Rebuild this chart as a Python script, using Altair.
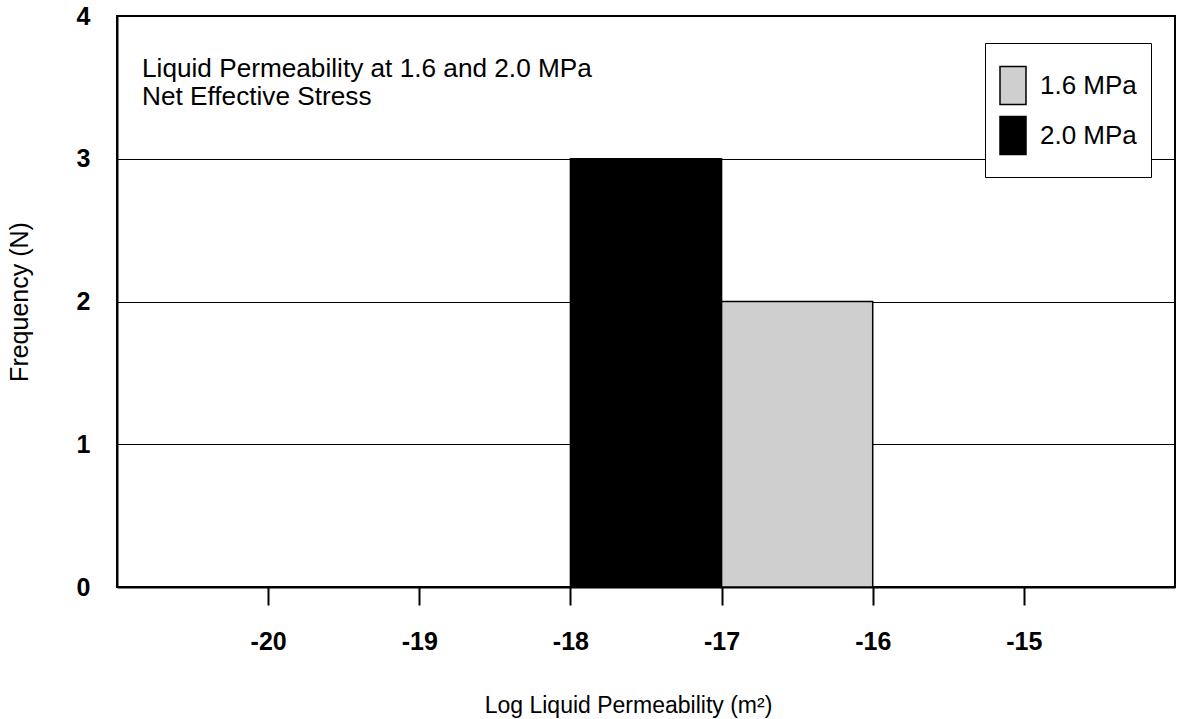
import altair as alt
import pandas as pd

# Histogram bins (log10 permeability, m^2)
bin_start = [-18, -17]
bin_end = [-17, -16]
counts = [3, 2]
series = ["2.0 MPa", "1.6 MPa"]

legend_order = ["1.6 MPa", "2.0 MPa"]
legend_colors = ["#cfcfcf", "#000000"]

x_ticks = [-20, -19, -18, -17, -16, -15]
y_ticks = [0, 1, 2, 3, 4]
annotation_lines = ["Liquid Permeability at 1.6 and 2.0 MPa", "Net Effective Stress"]

FONT = "Liberation Sans"

df = pd.DataFrame({"start": bin_start, "end": bin_end, "count": counts, "series": series})

bars = alt.Chart(df).mark_rect(stroke="black", strokeWidth=1.5, opacity=1).encode(
    x=alt.X(
        "start:Q",
        scale=alt.Scale(domain=[-21, -14], nice=False, zero=False),
        axis=alt.Axis(
            values=x_ticks,
            labelExpr="toString(datum.value)",
            title="Log Liquid Permeability (m²)",
            titleFont=FONT, titleFontSize=23, titleFontWeight="normal", titleColor="black",
            titleX=511, titleAlign="center", titlePadding=40,
            labelFont=FONT, labelFontSize=25, labelFontWeight="bold", labelColor="black",
            labelPadding=24,
            ticks=True, tickSize=18, tickWidth=2, tickColor="black",
            domain=True, domainColor="black", domainWidth=2,
            grid=False,
        ),
    ),
    x2="end:Q",
    y=alt.Y(
        "count:Q",
        scale=alt.Scale(domain=[0, 4], nice=False),
        axis=alt.Axis(
            values=y_ticks,
            format="d",
            title="Frequency (N)",
            titleFont=FONT, titleFontSize=25, titleFontWeight="normal", titleColor="black",
            titlePadding=44,
            labelFont=FONT, labelFontSize=25, labelFontWeight="bold", labelColor="black",
            labelPadding=27,
            ticks=False,
            domain=True, domainColor="black", domainWidth=2,
            grid=True, gridColor="black", gridWidth=1.2, gridOpacity=1,
        ),
    ),
    y2=alt.datum(0),
    fill=alt.Fill(
        "series:N",
        scale=alt.Scale(domain=legend_order, range=legend_colors),
        legend=alt.Legend(
            title=" ",
            titleFontSize=5,
            titlePadding=9.5,
            orient="none",
            legendX=868,
            legendY=27,
            padding=14,
            rowPadding=0,
            symbolType="M-1,-1.46H1V1.46H-1Z M0,1.85L0,1.85",
            symbolSize=676,
            symbolStrokeColor="black",
            symbolStrokeWidth=1.5,
            symbolOpacity=1,
            labelOffset=13,
            labelFont=FONT,
            labelFontSize=26,
            labelColor="black",
            strokeColor="black",
            fillColor="white",
        ),
    ),
)

annot = alt.Chart(pd.DataFrame({"k": [0]})).mark_text(
    align="left", baseline="alphabetic", font=FONT, fontSize=26.2, color="black", lineHeight=28
).encode(
    x=alt.value(25),
    y=alt.value(61),
    text=alt.value(annotation_lines),
)

chart = alt.layer(bars, annot).properties(
    width=1058,
    height=571,
    autosize=alt.AutoSizeParams(type="none"),
    padding={"left": 117, "top": 16, "right": 2, "bottom": 132},
    background="white",
).configure_view(stroke="black", strokeWidth=2)

chart.save("out.html", embed_options={"renderer": "svg", "actions": False})
